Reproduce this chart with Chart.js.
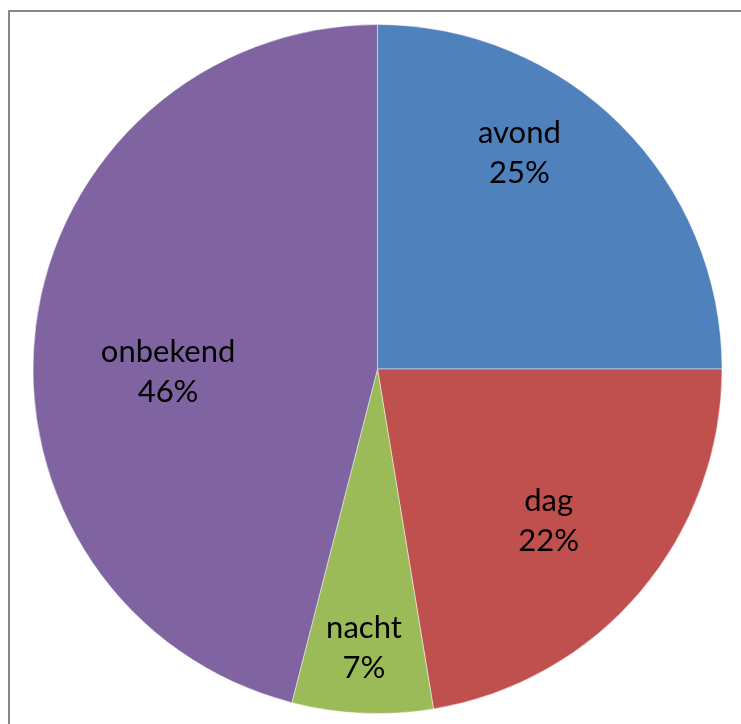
<!DOCTYPE html>
<html>
<head>
<meta charset="utf-8">
<script src="https://cdn.jsdelivr.net/npm/chart.js@4/dist/chart.umd.min.js"></script>
<style>
  html, body { margin: 0; padding: 0; background: #fff; overflow: hidden; }
  #wrap { position: relative; width: 741px; height: 724px; }
  #frame { position: absolute; left: 8px; top: 10px; width: 900px; height: 900px; border: 2px solid #878787; box-sizing: border-box; }
  #pieChart { position: absolute; left: 0; top: 0; }
</style>
</head>
<body>
<div id="wrap">
  <div id="frame"></div>
  <canvas id="pieChart" width="741" height="724"></canvas>
</div>
<script>
// ===============================
// Data
// ===============================
const categories = ["avond", "dag", "nacht", "onbekend"];
const shares = [25, 22.4, 6.6, 46];
const sliceColors = ["#4F81BD", "#C0504D", "#9BBB59", "#8064A2"];

// label placement inside each slice: [fraction of slice angle, fraction of radius]
const labelPlacement = [[0.369, 0.752], [0.514, 0.663], [0.511, 0.809], [0.453, 0.608]];

// ===============================
// Inline labels (category + rounded percent)
// ===============================
const sliceLabels = {
  id: "sliceLabels",
  afterDatasetsDraw(chart) {
    const ctx = chart.ctx;
    const meta = chart.getDatasetMeta(0);
    const total = shares.reduce((a, b) => a + b, 0);
    ctx.save();
    ctx.fillStyle = "#000";
    ctx.font = "31px Lato, 'Liberation Sans', sans-serif";
    ctx.textAlign = "center";
    ctx.textBaseline = "alphabetic";
    meta.data.forEach((arc, i) => {
      const p = arc.getProps(["x", "y", "startAngle", "endAngle", "outerRadius"], true);
      const [af, rf] = labelPlacement[i];
      const a = p.startAngle + af * (p.endAngle - p.startAngle);
      const cx = p.x + Math.cos(a) * p.outerRadius * rf;
      const cy = p.y + Math.sin(a) * p.outerRadius * rf;
      const pct = Math.round(shares[i] / total * 100) + "%";
      ctx.fillText(categories[i], cx, cy - 9);
      ctx.fillText(pct, cx, cy + 31);
    });
    ctx.restore();
  }
};

new Chart(document.getElementById("pieChart"), {
  type: "pie",
  data: {
    labels: categories,
    datasets: [{
      data: shares,
      backgroundColor: sliceColors,
      borderColor: "rgba(255,255,255,0.45)",
      borderWidth: 1
    }]
  },
  options: {
    responsive: false,
    animation: false,
    layout: { padding: { left: 20, right: 6, top: 24, bottom: 10 } },
    plugins: {
      legend: { display: false },
      tooltip: { enabled: false }
    }
  },
  plugins: [sliceLabels]
});
</script>
</body>
</html>
